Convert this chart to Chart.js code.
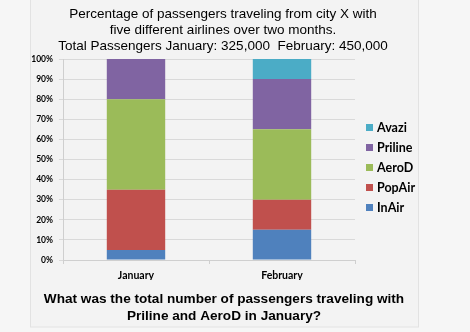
<!DOCTYPE html>
<html>
<head>
<meta charset="utf-8">
<script src="https://cdn.jsdelivr.net/npm/chart.js@4"></script>
<style>
  html, body { margin: 0; padding: 0; background: #f6f6f6; }
  #wrap { width: 470px; height: 332px; }
</style>
</head>
<body>
<div id="wrap"><canvas id="c" width="470" height="332"></canvas></div>
<script>
// Months on the x axis
const months = ['January', 'February'];

// Share of passengers (%) per airline, stacked bottom to top
const inAir   = [5, 15];
const popAir  = [30, 15];
const aeroD   = [45, 35];
const priline = [20, 25];
const avazi   = [0, 10];

const airlineNames  = ['InAir', 'PopAir', 'AeroD', 'Priline', 'Avazi'];
const airlineColors = ['#4F81BD', '#C0504D', '#9BBB59', '#8064A2', '#4BACC6'];

const titleLines = [
  'Percentage of passengers traveling from city X with',
  'five different airlines over two months.',
  'Total Passengers January: 325,000  February: 450,000'
];
const questionLines = [
  'What was the total number of passengers traveling with',
  'Priline and AeroD in January?'
];

const seriesValues = [inAir, popAir, aeroD, priline, avazi];

// Light panel behind the whole chart
const panelPlugin = {
  id: 'panel',
  beforeDraw(chart) {
    const ctx = chart.ctx;
    ctx.save();
    ctx.fillStyle = '#f6f6f6';
    ctx.fillRect(0, 0, chart.width, chart.height);
    ctx.fillStyle = '#f3f3f3';
    ctx.fillRect(30.5, -1, 388, 328);
    ctx.strokeStyle = '#e2e2e2';
    ctx.lineWidth = 1;
    ctx.strokeRect(30.5, -1, 388, 328);
    ctx.restore();
  }
};

// Heading above the plot and question below it, centred on the panel
const textPlugin = {
  id: 'headings',
  afterDraw(chart) {
    const ctx = chart.ctx;
    const cx = 223;
    ctx.save();
    ctx.fillStyle = '#000';
    ctx.textAlign = 'center';
    ctx.textBaseline = 'alphabetic';
    ctx.font = '13.5px "Liberation Sans", Arial, sans-serif';
    titleLines.forEach((t, i) => ctx.fillText(t, cx, 18 + i * 16));
    ctx.font = 'bold 13.6px "Liberation Sans", Arial, sans-serif';
    questionLines.forEach((t, i) => ctx.fillText(t, cx + 1, 303 + i * 17));
    ctx.restore();
  }
};

// Legend on the right, listed top-down in stack order (top series first)
const sideLegendPlugin = {
  id: 'sideLegend',
  afterDraw(chart) {
    const ctx = chart.ctx;
    const items = chart.data.datasets.map(d => ({ label: d.label, color: d.backgroundColor })).reverse();
    ctx.save();
    ctx.font = 'bold 12.5px Lato, "Open Sans", sans-serif';
    ctx.textBaseline = 'middle';
    ctx.textAlign = 'left';
    items.forEach((it, i) => {
      const y = 127.5 + i * 20;
      ctx.fillStyle = it.color;
      ctx.fillRect(366, y - 3.5, 7, 7);
      ctx.fillStyle = '#000';
      ctx.fillText(it.label, 377, y + 0.5);
    });
    ctx.restore();
  }
};

new Chart(document.getElementById('c'), {
  type: 'bar',
  data: {
    labels: months,
    datasets: airlineNames.map((name, i) => ({
      label: name,
      data: seriesValues[i],
      backgroundColor: airlineColors[i],
      borderWidth: 0,
      barPercentage: 0.4,
      categoryPercentage: 1.0
    }))
  },
  options: {
    responsive: false,
    animation: false,
    devicePixelRatio: 1,
    layout: { padding: { left: 30, right: 115, top: 59, bottom: 52 } },
    plugins: {
      legend: { display: false },
      tooltip: { enabled: false },
      title: { display: false }
    },
    scales: {
      x: {
        stacked: true,
        afterFit(scale) { scale.height = 20; },
        grid: { display: true, drawOnChartArea: false, drawTicks: true, tickLength: 4, color: '#cfcfcf', offset: true },
        border: { display: true, color: '#cfcfcf' },
        ticks: {
          color: '#000',
          padding: 5,
          font: { family: 'Lato, "Open Sans", sans-serif', size: 10.5, weight: 'bold' }
        }
      },
      y: {
        stacked: true,
        min: 0,
        max: 100,
        afterFit(scale) { scale.width = 33; },
        grid: { color: '#d9d9d9', drawTicks: true, tickLength: 4 },
        border: { display: true, color: '#cfcfcf' },
        ticks: {
          stepSize: 10,
          color: '#000',
          padding: 6,
          font: { family: 'Lato, "Open Sans", sans-serif', size: 8.5, weight: 'bold' },
          callback: v => v + '%'
        }
      }
    }
  },
  plugins: [panelPlugin, textPlugin, sideLegendPlugin]
});
</script>
</body>
</html>
